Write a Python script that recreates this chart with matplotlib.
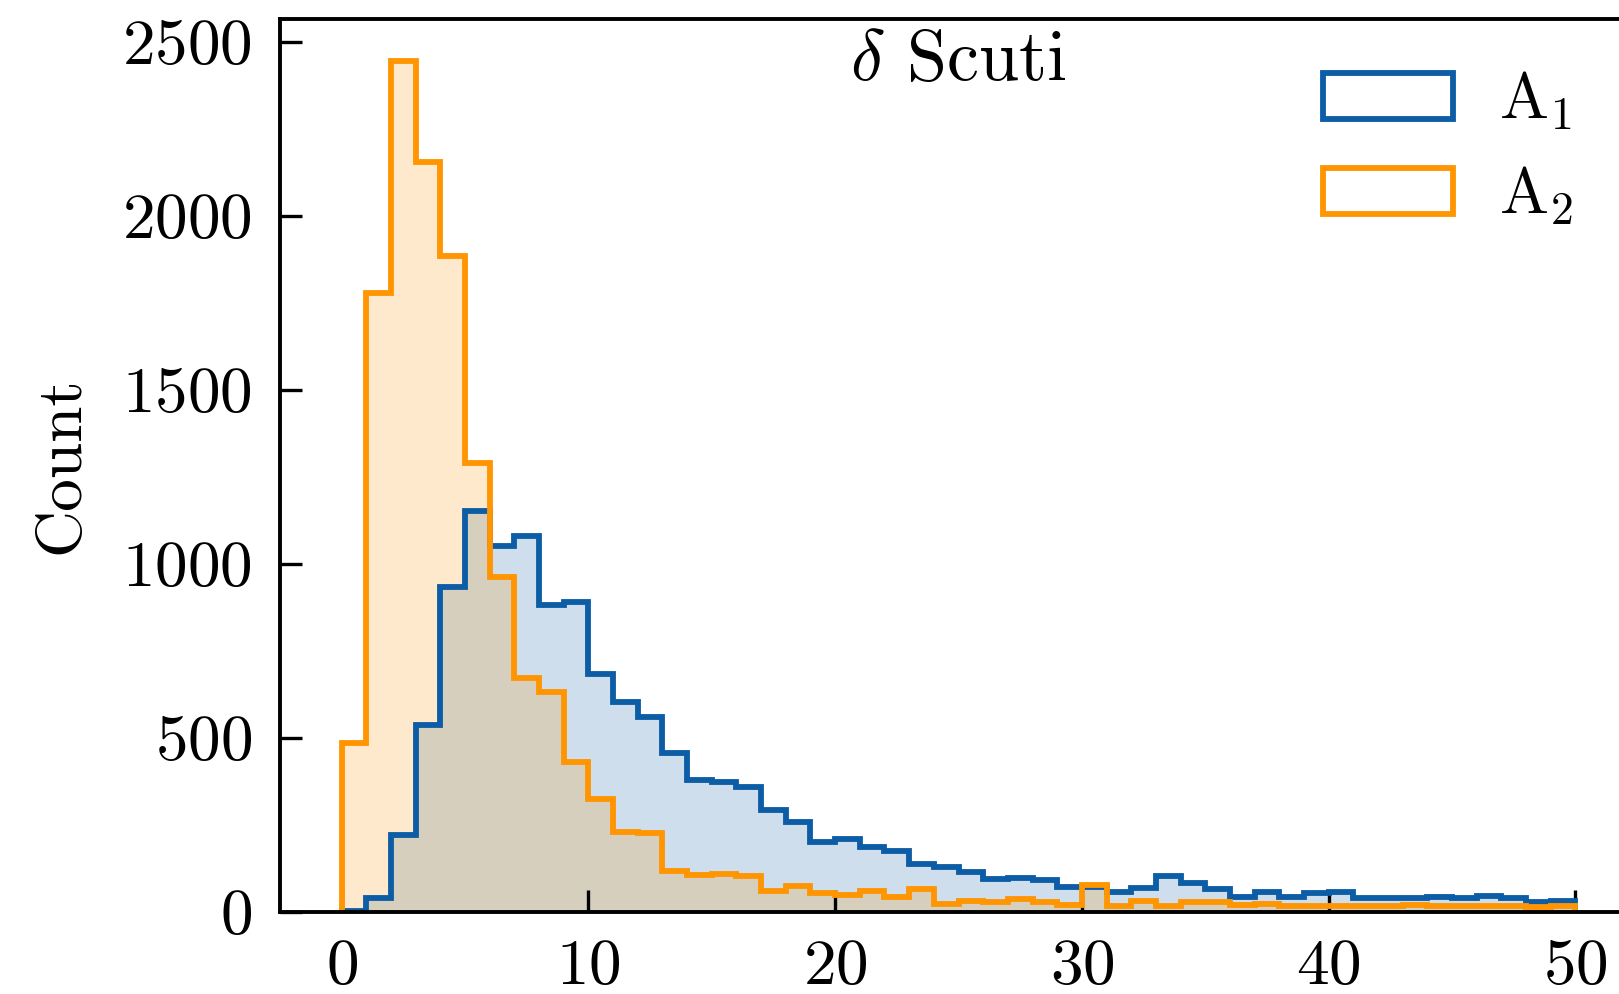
import numpy as np
import matplotlib
matplotlib.use("Agg")
import matplotlib.pyplot as plt

plt.rcParams['font.family'] = 'serif'
plt.rcParams['font.serif'] = ['cmr10']
plt.rcParams['mathtext.fontset'] = 'cm'
plt.rcParams['axes.formatter.use_mathtext'] = True
plt.rcParams['axes.unicode_minus'] = False

# ---- data ----
bin_edges = list(range(0, 51))
a1_counts = [3, 38, 220, 537, 934, 1151, 1051, 1080, 881, 891,
             682, 603, 560, 455, 378, 372, 359, 292, 259, 201,
             208, 185, 175, 137, 128, 115, 93, 96, 91, 72,
             72, 57, 67, 103, 82, 64, 41, 57, 43, 53,
             57, 38, 38, 38, 43, 38, 46, 38, 27, 32]
a2_counts = [486, 1779, 2443, 2153, 1884, 1288, 963, 672, 632, 431,
             323, 230, 225, 118, 105, 108, 103, 60, 75, 55,
             48, 60, 41, 64, 22, 32, 29, 36, 27, 20,
             76, 17, 32, 15, 29, 29, 20, 23, 15, 15,
             15, 17, 17, 20, 17, 15, 17, 15, 13, 15]
labels = [r'A$_1$', r'A$_2$']
colors = ['#0C5DA5', '#FF9500']
title = r'$\delta$ Scuti'
ylabel = 'Count'
xticks = [0, 10, 20, 30, 40, 50]
yticks = [0, 500, 1000, 1500, 2000, 2500]

W, H = 1619, 994
fig = plt.figure(figsize=(W / 100, H / 100), dpi=100)
ax = fig.add_axes([280 / W, 82.3 / H, 1357 / W, 892.7 / H])

edges = np.array(bin_edges, dtype=float)
centers = 0.5 * (edges[:-1] + edges[1:])
widths = np.diff(edges)

for counts, col, lab in zip([a1_counts, a2_counts], colors, labels):
    ax.bar(centers, counts, width=widths, color=col, alpha=0.2,
           linewidth=0, zorder=1)
for counts, col, lab in zip([a1_counts, a2_counts], colors, labels):
    ax.hist(centers, bins=edges, weights=counts, histtype='step',
            color=col, linewidth=4.2, label=lab, zorder=2)

ax.set_xlim(-2.5, 52.5)
ax.set_ylim(0, 2565)
ax.set_xticks(xticks)
ax.set_yticks(yticks)

fs = 47
ax.tick_params(axis='both', which='major', direction='in', length=16,
               width=2.4, labelsize=fs, pad=20, top=False, right=False)
ax.minorticks_off()
for s in ax.spines.values():
    s.set_linewidth(2.8)

ax.set_ylabel(ylabel, fontsize=fs, labelpad=22)
ax.text(0.5, 0.9317, title, transform=ax.transAxes, ha='center',
        va='baseline', fontsize=52)

leg = ax.legend(loc='upper left', bbox_to_anchor=(0.725, 1.0085),
                frameon=False, fontsize=fs, handletextpad=0.7)

fig.savefig('out.png', dpi=100)
